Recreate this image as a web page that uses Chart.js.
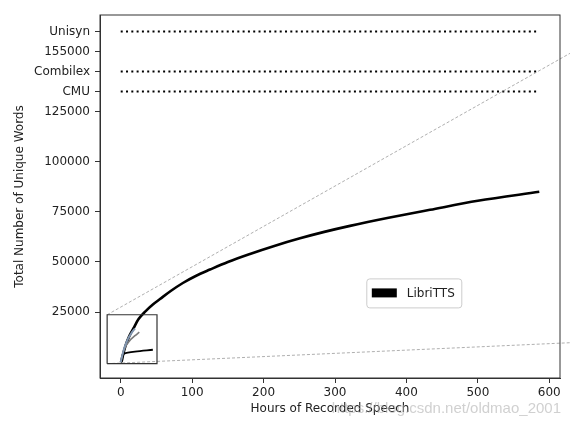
<!DOCTYPE html>
<html><head><meta charset="utf-8">
<script src="https://cdn.jsdelivr.net/npm/chart.js@4/dist/chart.umd.min.js"></script>
<style>html,body{margin:0;padding:0;background:#fff}#wrap{width:570px;height:428px}</style>
</head><body><div id="wrap"><canvas id="c"></canvas></div>
<script>
// ---- data ----
const libriHours = [0, 1.5, 3.5, 7, 12, 18, 25, 35, 45, 55, 70, 87, 105, 125, 150, 181, 215, 251, 285, 321, 375, 433, 500, 586];
const libriWords = [0, 700, 4000, 8500, 13000, 17000, 21500, 25500, 28800, 31500, 35500, 39500, 43000, 46200, 50000, 54000, 58000, 61800, 65000, 68000, 72000, 76000, 80500, 85000];

const blueHours = [0, 2, 5, 10, 15, 20];
const blueWords = [0, 3000, 7000, 11500, 14500, 16800];

const grayHours = [0, 3, 6, 12, 20, 26];
const grayWords = [0, 4500, 7300, 10500, 13200, 15000];

const smallHours = [0.5, 1.5, 3.5, 10, 20, 45];
const smallWords = [0, 2500, 3900, 4700, 5300, 6200];

const lexiconNames = ['CMU', 'Combilex', 'Unisyn'];
const lexiconSizes = [135000, 145000, 165000];
const lexiconSpan = [0, 586];

const yTickValues = [25000, 50000, 75000, 100000, 125000, 135000, 145000, 155000, 165000];
const yTickLabels = ['25000', '50000', '75000', '100000', '125000', 'CMU', 'Combilex', '155000', 'Unisyn'];
const xTickValues = [0, 100, 200, 300, 400, 500, 600];

const zoomBoxX = [-19, 50.8];
const zoomBoxY = [-750, 23650];
const connectorEndX = 640;
const connectorUpperEndY = 156300;
const connectorLowerEndY = 9880;

const FONT = 'DejaVu Sans';
const pts = (xs, ys) => xs.map((x, i) => ({x, y: ys[i]}));

const datasets = [
  {label: 'LibriTTS', data: pts(libriHours, libriWords), borderColor: '#000', backgroundColor: '#000',
   borderWidth: 2.6, pointRadius: 0, cubicInterpolationMode: 'monotone', order: 3, inLegend: true},
  {label: 'b', data: pts(blueHours, blueWords), borderColor: '#8196b0', borderWidth: 2, pointRadius: 0,
   cubicInterpolationMode: 'monotone', order: 2},
  {label: 'g', data: pts(grayHours, grayWords), borderColor: '#7a7a7a', borderWidth: 1.6, pointRadius: 0,
   cubicInterpolationMode: 'monotone', order: 2},
  {label: 's', data: pts(smallHours, smallWords), borderColor: '#000', borderWidth: 1.8, pointRadius: 0,
   cubicInterpolationMode: 'monotone', order: 2},
];
lexiconNames.forEach((n, i) => {
  datasets.push({label: n, data: pts(lexiconSpan, [lexiconSizes[i], lexiconSizes[i]]), borderColor: '#000',
    borderWidth: 2, borderDash: [2, 3.3], pointRadius: 0, order: 2});
});
datasets.push({label: 'box', data: pts([zoomBoxX[0], zoomBoxX[1], zoomBoxX[1], zoomBoxX[0], zoomBoxX[0]],
  [zoomBoxY[0], zoomBoxY[0], zoomBoxY[1], zoomBoxY[1], zoomBoxY[0]]), borderColor: '#333', borderWidth: 1.2,
  pointRadius: 0, tension: 0, order: 1});
datasets.push({label: 'c1', data: pts([zoomBoxX[0], connectorEndX], [zoomBoxY[1], connectorUpperEndY]),
  borderColor: '#9a9a9a', borderWidth: 0.8, borderDash: [3, 2], pointRadius: 0, clip: false, order: 1});
datasets.push({label: 'c2', data: pts([zoomBoxX[0], connectorEndX], [zoomBoxY[0], connectorLowerEndY]),
  borderColor: '#9a9a9a', borderWidth: 0.8, borderDash: [3, 2], pointRadius: 0, clip: false, order: 1});

const framePlugin = {
  id: 'frame',
  afterDatasetsDraw(chart) {
    const {ctx, chartArea: a} = chart;
    ctx.save();
    ctx.strokeStyle = '#333'; ctx.lineWidth = 1;
    ctx.strokeRect(a.left, a.top, a.right - a.left, a.bottom - a.top);
    ctx.restore();
  }
};
const legendPlugin = {
  id: 'innerLegend',
  afterDraw(chart) {
    const {ctx, chartArea: a} = chart;
    const ds = chart.data.datasets.find(d => d.inLegend);
    const x = a.left + 0.58 * (a.right - a.left), y = a.top + 0.727 * (a.bottom - a.top);
    const w = 95, h = 29, r = 3;
    ctx.save();
    ctx.beginPath();
    ctx.moveTo(x + r, y); ctx.arcTo(x + w, y, x + w, y + h, r); ctx.arcTo(x + w, y + h, x, y + h, r);
    ctx.arcTo(x, y + h, x, y, r); ctx.arcTo(x, y, x + w, y, r); ctx.closePath();
    ctx.fillStyle = 'rgba(255,255,255,0.8)'; ctx.fill();
    ctx.strokeStyle = '#cccccc'; ctx.lineWidth = 1; ctx.stroke();
    ctx.fillStyle = ds.backgroundColor;
    ctx.fillRect(x + 5, y + 9.5, 25, 9);
    ctx.fillStyle = '#222'; ctx.font = '12px "' + FONT + '"'; ctx.textBaseline = 'middle';
    ctx.fillText(ds.label, x + 40, y + 14.5);
    ctx.restore();
  }
};
const watermarkPlugin = {
  id: 'watermark',
  afterDraw(chart) {
    const {ctx} = chart;
    ctx.save();
    ctx.font = '15px "Liberation Sans"'; ctx.fillStyle = 'rgba(170,170,170,0.55)';
    ctx.textAlign = 'right'; ctx.textBaseline = 'middle';
    ctx.fillText('https://blog.csdn.net/oldmao_2001', 561, 409);
    ctx.restore();
  }
};

new Chart(document.getElementById('c'), {
  type: 'line',
  data: {datasets},
  options: {
    responsive: true, maintainAspectRatio: false, animation: false,
    layout: {padding: {top: 15, right: 10, left: 0, bottom: 0}},
    plugins: {legend: {display: false}, tooltip: {enabled: false}},
    scales: {
      x: {type: 'linear', min: -29, max: 615,
        afterBuildTicks: s => { s.ticks = xTickValues.map(v => ({value: v})); },
        afterFit: s => { s.height = 50; },
        ticks: {font: {size: 12, family: FONT}, color: '#222', padding: 3, maxRotation: 0, autoSkip: false,
          callback: v => String(v)},
        grid: {drawOnChartArea: false, drawTicks: true, tickLength: 5, color: '#333'},
        border: {display: true, color: '#333', width: 1},
        title: {display: true, text: 'Hours of Recorded Speech', font: {size: 12, family: FONT}, color: '#222',
          padding: {top: 0, bottom: 12}}
      },
      y: {type: 'linear', min: -7900, max: 173200,
        afterBuildTicks: s => { s.ticks = yTickValues.map(v => ({value: v})); },
        afterFit: s => { s.width = 100; },
        ticks: {font: {size: 12, family: FONT}, color: '#222', padding: 5, autoSkip: false,
          callback: v => { const i = yTickValues.indexOf(v); return i >= 0 ? yTickLabels[i] : ''; }},
        grid: {drawOnChartArea: false, drawTicks: true, tickLength: 5, color: '#333'},
        border: {display: true, color: '#333', width: 1},
        title: {display: true, text: 'Total Number of Unique Words', font: {size: 12, family: FONT}, color: '#222',
          padding: {top: 13, bottom: 0}}
      }
    }
  },
  plugins: [framePlugin, legendPlugin, watermarkPlugin]
});
</script></body></html>
